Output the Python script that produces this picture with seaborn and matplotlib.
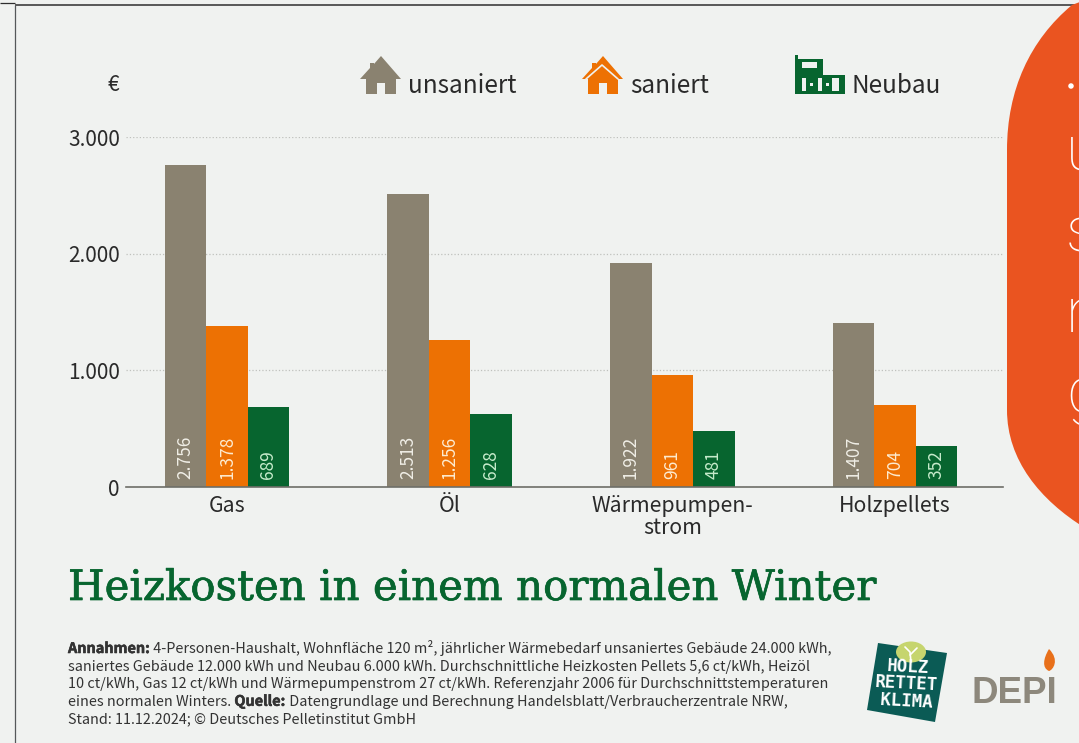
import pandas as pd
import matplotlib
matplotlib.use('Agg')
import matplotlib.pyplot as plt
import matplotlib.patheffects as pe
import seaborn as sns
from matplotlib.patches import Polygon, PathPatch, Ellipse, Rectangle
from matplotlib.path import Path

# Chart data
categories = ['Gas', 'Öl', 'Wärmepumpen-\nstrom', 'Holzpellets']
unsaniert = [2756, 2513, 1922, 1407]
saniert = [1378, 1256, 961, 704]
neubau = [689, 628, 481, 352]
series_names = ['unsaniert', 'saniert', 'Neubau']
y_ticks = [0, 1000, 2000, 3000]
y_tick_labels = ['0', '1.000', '2.000', '3.000']

bg = '#F0F2F0'
taupe = '#8A8270'
orange = '#ED7103'
green = '#07652F'
ink = '#2A2A2A'
palette = [taupe, orange, green]
value_colors = ['#F0EEE6', '#FDEBD0', '#C6EBCB']
sans = 'Noto Sans CJK JP'

sns.set_style('white')
plt.rcParams['font.family'] = [sans, 'DejaVu Sans']

df = pd.DataFrame({
    'category': categories * 3,
    'series': [s for s in series_names for _ in categories],
    'value': unsaniert + saniert + neubau,
})

W, H = 1079, 743
fig = plt.figure(figsize=(W / 100, H / 100), dpi=100, facecolor=bg)

# Overlay in pixel coordinates for the furniture around the chart
ov = fig.add_axes([0, 0, 1, 1], zorder=0)
ov.set_xlim(0, W)
ov.set_ylim(H, 0)
ov.axis('off')

# Main chart
ax = fig.add_axes([126 / W, (H - 487) / H, 877 / W, 350 / H], zorder=1)
ax.patch.set_alpha(0)
sns.barplot(data=df, x='category', y='value', hue='series', palette=palette,
            hue_order=series_names, order=categories, width=0.559, gap=0,
            saturation=1, linewidth=0, legend=False, ax=ax)
ax.set_xlim((126 - 227) / 222.7, (1003 - 227) / 222.7)
ax.set_ylim(0, 3000)
ax.set_xlabel('')
ax.set_ylabel('')
ax.set_yticks(y_ticks, y_tick_labels)
ax.tick_params(axis='y', length=0, pad=4.5, labelsize=15, labelcolor=ink)
ax.tick_params(axis='x', length=0, pad=6, labelsize=15.3, labelcolor=ink)
for label in ax.get_xticklabels():
    label.set_linespacing(1.0)
ax.set_axisbelow(True)
ax.yaxis.grid(True, color='#BFC1BD', linestyle=':', linewidth=0.9)
ax.xaxis.grid(False)
for side in ['top', 'left', 'right']:
    ax.spines[side].set_visible(False)
ax.spines['bottom'].set_color('#6E6E68')
ax.spines['bottom'].set_linewidth(1.2)

# Values written upwards inside the bars
for container, color in zip(ax.containers, value_colors):
    for bar in container:
        val = bar.get_height()
        txt = f'{val:,.0f}'.replace(',', '.')
        ax.annotate(txt, (bar.get_x() + bar.get_width() / 2, 0),
                    xytext=(0, 5.5), textcoords='offset points',
                    rotation=90, ha='center', va='bottom',
                    fontsize=12.5, color=color)

# Frame lines of the slide
ov.plot([15, W], [5, 5], color='#2E2E2E', lw=1.1, solid_capstyle='butt')
ov.plot([15, 15], [5, H], color='#55585A', lw=0.9, solid_capstyle='butt')
ov.plot([0, 15], [3, 3], color='#2E2E2E', lw=0.9, solid_capstyle='butt')

# Euro sign and legend
ov.text(119, 91, '€', ha='right', va='baseline', fontsize=15, color=ink)


def house(x, color):
    ov.add_patch(Polygon([(x + 21, 56), (x + 41, 79), (x + 36, 79), (x + 36, 94),
                          (x + 25, 94), (x + 25, 83), (x + 17, 83), (x + 17, 94),
                          (x + 6, 94), (x + 6, 79), (x, 79), (x + 10, 68),
                          (x + 10, 63), (x + 14, 63), (x + 14, 64)],
                         closed=True, fc=color, ec='none'))


house(360, taupe)
house(582, orange)
# white roof stripe of the renovated house
ov.plot([586, 602, 618], [79, 65, 79], color=bg, lw=1.2)
# building icon
ov.add_patch(Polygon([(795, 55), (798, 55), (798, 59), (823, 59), (823, 75),
                      (845, 75), (845, 94), (795, 94)],
                     closed=True, fc=green, ec='none'))
ov.add_patch(Rectangle((802, 62), 15, 6, fc=bg, ec='none'))
for wx, wy, ww, wh in [(802, 78, 4, 13), (810, 83, 3, 3), (818, 78, 4, 13),
                       (826, 83, 3, 3), (832, 78, 7, 13)]:
    ov.add_patch(Rectangle((wx, wy), ww, wh, fc=bg, ec='none'))

for lx, name in zip([408, 630, 852], series_names):
    ov.text(lx, 93, name, ha='left', va='baseline', fontsize=17.5, color=ink)

# Title
ov.text(68, 600, 'Heizkosten in einem normalen Winter', ha='left', va='baseline',
        family='DejaVu Serif', fontsize=30.2, color=green,
        path_effects=[pe.withStroke(linewidth=0.5, foreground=green)])

# Footnote
foot_rows = [
    [('Annahmen:', True), (' 4-Personen-Haushalt, Wohnfläche 120 m², jährlicher Wärmebedarf unsaniertes Gebäude 24.000 kWh,', False)],
    [('saniertes Gebäude 12.000 kWh und Neubau 6.000 kWh. Durchschnittliche Heizkosten Pellets 5,6 ct/kWh, Heizöl', False)],
    [('10 ct/kWh, Gas 12 ct/kWh und Wärmepumpenstrom 27 ct/kWh. Referenzjahr 2006 für Durchschnittstemperaturen', False)],
    [('eines normalen Winters. ', False), ('Quelle:', True), (' Datengrundlage und Berechnung Handelsblatt/Verbraucherzentrale NRW,', False)],
    [('Stand: 11.12.2024; © Deutsches Pelletinstitut GmbH', False)],
]
renderer = fig.canvas.get_renderer()
for i, row in enumerate(foot_rows):
    x = 68
    for chunk, bold in row:
        t = ov.text(x, 653 + i * 17.6, chunk, ha='left', va='baseline', fontsize=10.4,
                    color='#333333', fontweight='bold' if bold else 'normal')
        if bold:
            t.set_path_effects([pe.withStroke(linewidth=0.4, foreground='#333333')])
        x += t.get_window_extent(renderer).width

# Holz rettet Klima logo
ov.add_patch(Polygon([(878, 643), (947, 653), (935, 722), (867, 710)],
                     closed=True, fc='#0B5B55', ec='none'))
ov.add_patch(Ellipse((911, 652), 30, 21, fc='#C6D56E', ec='none'))
ov.plot([911, 910, 905], [662, 652, 647], color='white', lw=1.2)
ov.plot([910, 917], [655, 648], color='white', lw=1.2)
ov.text(907, 684, 'HOLZ\nRETTET\nKLIMA', ha='center', va='center', rotation=-3,
        family='DejaVu Sans Mono', fontweight='bold', fontsize=12.5, color='white',
        linespacing=0.95, multialignment='center', zorder=5)

# DEPI logo
ov.text(971, 703, 'DEPI', ha='left', va='baseline', family='Liberation Sans',
        fontweight='bold', fontsize=26.5, color='#8D887C')
flame = Path([(1049, 649), (1060, 660), (1053, 670), (1049, 671),
              (1042, 668), (1043, 659), (1049, 649)],
             [Path.MOVETO, Path.CURVE4, Path.CURVE4, Path.CURVE4,
              Path.CURVE4, Path.CURVE4, Path.CURVE4])
ov.add_patch(PathPatch(flame, fc='#E8701A', ec='none'))

# Orange bubble cut off at the right edge
blob = Path([(1085, 0), (1072, 5), (1030, 40), (1007, 90), (1007, 150), (1007, 410),
             (1007, 460), (1040, 500), (1085, 528), (1085, 0)],
            [Path.MOVETO, Path.LINETO, Path.CURVE4, Path.CURVE4, Path.CURVE4, Path.LINETO,
             Path.CURVE4, Path.CURVE4, Path.CURVE4, Path.CLOSEPOLY])
ov.add_patch(PathPatch(blob, fc='#EA5420', ec='none', zorder=3))
ov.add_patch(Ellipse((1071, 86), 5.5, 5.5, fc='white', ec='none', zorder=4))
for yy, ch in zip([170, 251, 332, 413], ['u', 's', 'n', 'g']):
    ov.text(1066, yy, ch, ha='left', va='baseline', family='Roboto', fontweight='light',
            fontsize=45, color='white', zorder=4)

fig.savefig('out.png', dpi=100, facecolor=bg)
